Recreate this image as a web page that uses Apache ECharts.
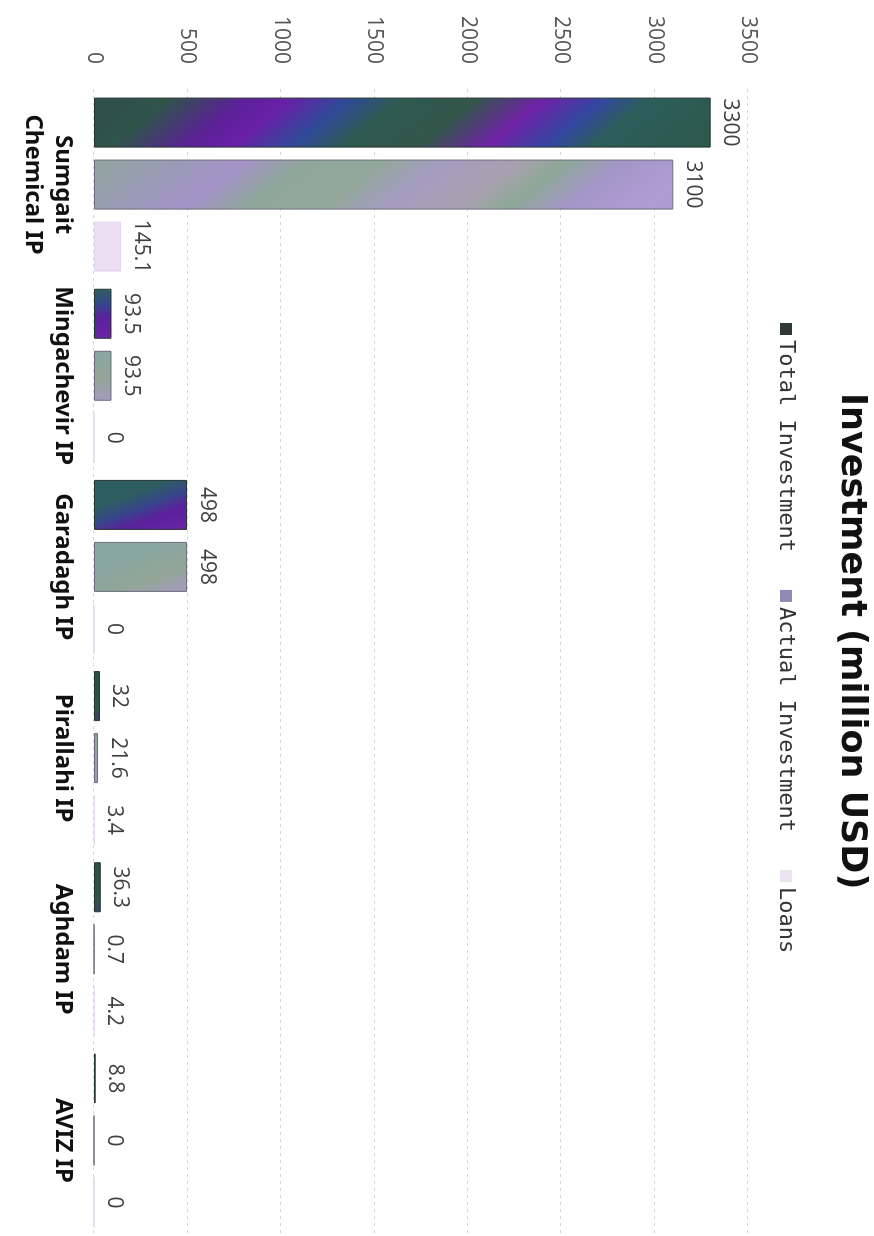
<!DOCTYPE html>
<html>
<head>
<meta charset="utf-8">
<script src="https://cdn.jsdelivr.net/npm/echarts@6.0.0/dist/echarts.min.js"></script>
<style>
  html, body { margin: 0; padding: 0; background: #ffffff; overflow: hidden; }
  body { width: 874px; height: 1236px; position: relative; }
  /* chart is drawn in its original landscape orientation, then the sheet is turned 90deg clockwise like the scan */
  #chart { position: absolute; left: 874px; top: 0; width: 1236px; height: 874px;
           transform-origin: 0 0; transform: rotate(90deg); background: #ffffff; }
</style>
</head>
<body>
<div id="chart"></div>
<script>
// ---- data ----
const chartTitle = 'Investment (million USD)';
const categories = ['Sumgait\nChemical IP', 'Mingachevir IP', 'Garadagh IP', 'Pirallahi IP', 'Aghdam IP', 'AVIZ IP'];
const seriesNames = ['Total Investment', 'Actual Investment', 'Loans'];
const totalInvestment = [3300, 93.5, 498, 32, 36.3, 8.8];
const actualInvestment = [3100, 93.5, 498, 21.6, 0.7, 0];
const loans = [145.1, 0, 0, 3.4, 4.2, 0];
const valueMin = 0, valueMax = 3500, valueStep = 500;

// ---- styles ----
function grad(stops) {
  return { type: 'linear', x: 0, y: 1, x2: 14.8, y2: 0, global: false,
           colorStops: stops.map(s => ({ offset: s[0], color: s[1] })) };
}
function crossGrad(stops) {
  return { type: 'linear', x: 0, y: 0.2, x2: 1, y2: 0, global: false,
           colorStops: stops.map(s => ({ offset: s[0], color: s[1] })) };
}
const totalFill = grad([
  [0, '#2c4f47'], [0.05, '#2f544a'], [0.1, '#5b2196'], [0.13, '#6a1fa8'],
  [0.17, '#2f4a98'], [0.205, '#2e5a50'], [0.255, '#33564a'], [0.3, '#6e22a6'],
  [0.34, '#3247a0'], [0.37, '#2c5e5a'], [0.45, '#2d584c'], [1, '#2d584c']
]);
const totalFillShort = crossGrad([
  [0, '#2e5e60'], [0.3, '#36468a'], [0.55, '#5a229c'], [1, '#6a24a6']
]);
const actualFill = grad([
  [0, '#90a59a'], [0.06, '#9a9ab8'], [0.1, '#a492c8'], [0.14, '#8fa79a'],
  [0.19, '#92a89a'], [0.23, '#a49cc0'], [0.28, '#a9a1b0'], [0.31, '#8ea896'],
  [0.35, '#a496c8'], [0.4, '#b09cd4'], [0.45, '#ad9ad2'], [1, '#ad9ad2']
]);
const actualFillShort = crossGrad([
  [0, '#88a6a0'], [0.55, '#93a597'], [1, '#a59bc2']
]);
const loansFill = '#ecdff2';
// which bars use the short-bar gradient (by category position)
const totalFills = [totalFill, totalFillShort, totalFillShort, totalFill, totalFill, totalFill];
const actualFills = [actualFill, actualFillShort, actualFillShort, actualFill, actualFill, actualFill];

const labelStyle = { show: true, position: 'top', distance: 9, color: '#404040',
                     fontFamily: 'Open Sans', fontSize: 21 };

const chart = echarts.init(document.getElementById('chart'), null, { renderer: 'canvas' });
chart.setOption({
  backgroundColor: '#ffffff',
  animation: false,
  title: {
    text: chartTitle, left: 388, top: 0,
    textStyle: { fontFamily: 'DejaVu Sans', fontWeight: 'bold', fontSize: 35, color: '#111' }
  },
  legend: {
    left: 318, top: 72, itemWidth: 12, itemHeight: 12, itemGap: 38,
    icon: 'rect',
    textStyle: { fontFamily: 'DejaVu Sans Mono', fontSize: 22, color: '#333' },
    data: [
      { name: seriesNames[0], itemStyle: { color: '#2f3a36', borderWidth: 0 } },
      { name: seriesNames[1], itemStyle: { color: '#8e8ab4', borderWidth: 0 } },
      { name: seriesNames[2], itemStyle: { color: '#ebe3ef', borderWidth: 0 } }
    ]
  },
  grid: { left: 89, right: -18, top: 126, bottom: 94, containLabel: false },
  xAxis: {
    type: 'category', data: categories,
    axisLine: { show: false }, axisTick: { show: false },
    axisLabel: { interval: 0, margin: 16, color: '#111', fontFamily: 'Noto Sans',
                 fontWeight: 'bold', fontSize: 24, lineHeight: 30 }
  },
  yAxis: {
    type: 'value', min: valueMin, max: valueMax, interval: valueStep,
    axisLine: { show: false }, axisTick: { show: false },
    axisLabel: { margin: 25, color: '#555', fontFamily: 'Open Sans', fontSize: 21,
                 formatter: v => String(v) },
    splitLine: { show: true, lineStyle: { color: '#d6d6d6', type: [3, 4], width: 1 } }
  },
  series: [
    { name: seriesNames[0], type: 'bar', barWidth: 50, barGap: '24%',
      data: totalInvestment.map((v, i) => ({ value: v, itemStyle: { color: totalFills[i] } })),
      itemStyle: { color: totalFill, borderColor: '#27352f', borderWidth: 1 }, label: labelStyle },
    { name: seriesNames[1], type: 'bar', barWidth: 50, barGap: '24%',
      data: actualInvestment.map((v, i) => ({ value: v, itemStyle: { color: actualFills[i] } })),
      itemStyle: { color: actualFill, borderColor: '#6c6c7c', borderWidth: 1 }, label: labelStyle },
    { name: seriesNames[2], type: 'bar', data: loans, barWidth: 50, barGap: '24%',
      itemStyle: { color: loansFill, borderColor: '#e4d6ea', borderWidth: 1 }, label: labelStyle }
  ]
});
</script>
</body>
</html>
